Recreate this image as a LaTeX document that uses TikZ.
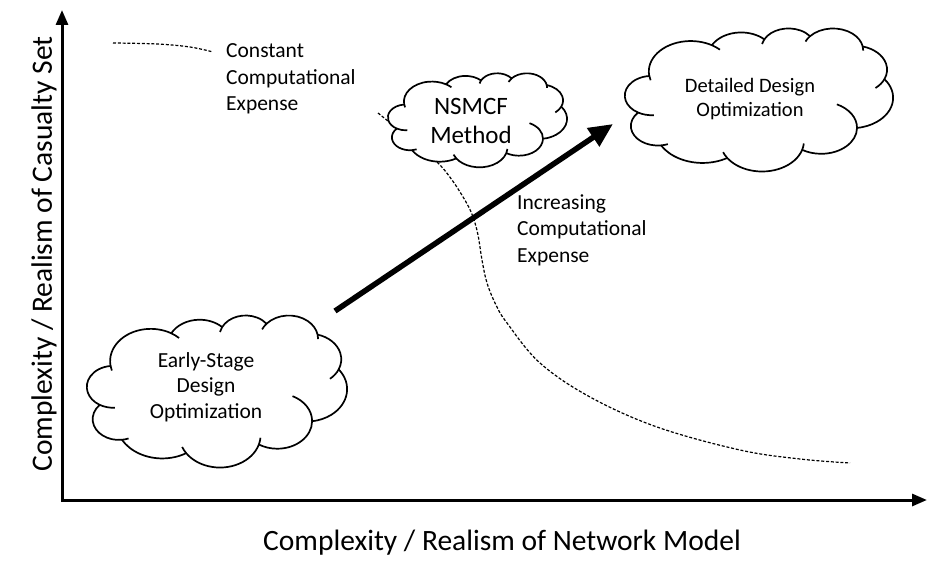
\documentclass[tikz,border=0pt]{standalone}
\usepackage{fontspec}
\setmainfont{Carlito}
\usetikzlibrary{arrows.meta}
\tikzset{
  cloudline/.style={line width=1.7pt, line join=round},
  axisline/.style={line width=3pt, line join=miter, {Triangle[length=15pt,width=12pt]}-{Triangle[length=15pt,width=12pt]}},
  trendarrow/.style={line width=5.5pt, -{Triangle[length=24pt,width=21pt]}},
  contour/.style={line width=1.2pt, dash pattern=on 3pt off 1.8pt},
  lbl/.style={inner sep=0pt, align=left, font=\fontsize{21.5}{26.5}\selectfont},
  cloudtext/.style={inner sep=0pt, align=center},
  axislabel/.style={inner sep=0pt, font=\fontsize{29.5}{34}\selectfont},
}
% PowerPoint-style cloud: #1,#2 = top-left corner (px), #3,#4 = width/100, height/100
\newcommand\pptcloud[4]{%
  \begin{scope}[shift={(#1,#2)}, x=#3pt, y=-#4pt]
    \filldraw[cloudline, fill=white] (9.03,33.26)
      arc[x radius=15.63, y radius=21.27, start angle=-187.75, end angle=-59.64]
      arc[x radius=12.35, y radius=16.82, start angle=-152.03, end angle=-45.45]
      arc[x radius=10.10, y radius=13.76, start angle=-153.49, end angle=-37.33]
      arc[x radius=11.24, y radius=15.27, start angle=-139.73, end angle=-10.21]
      arc[x radius=12.35, y radius=16.84, start angle=-74.77, end angle=23.21]
      arc[x radius=15.68, y radius=21.34, start angle=-37.52, end angle=81.86]
      arc[x radius=13.39, y radius=18.21, start angle=0.46, end angle=121.98]
      arc[x radius=15.63, y radius=21.33, start angle=16.84, end angle=146.23]
      arc[x radius=17.87, y radius=24.41, start angle=58.99, end angle=150.19]
      arc[x radius=10.09, y radius=13.70, start angle=-276.69, end angle=-136.88]
      arc[x radius=10.06, y radius=13.76, start angle=-239.64, end angle=-95.89]
      -- cycle;
    \draw[cloudline] (9.98,47.25) ++(85.54:10.06 and 13.76) arc[x radius=10.06, y radius=13.76, start angle=85.54, end angle=120.36];
    \draw[cloudline] (12.26,68.49) ++(68.24:10.09 and 13.70) arc[x radius=10.09, y radius=13.70, start angle=68.24, end angle=83.31];
    \draw[cloudline] (51.14,79.02) ++(146.23:15.63 and 21.33) arc[x radius=15.63, y radius=21.33, start angle=146.23, end angle=158.47];
    \draw[cloudline] (51.14,79.02) ++(4.73:15.63 and 21.33) arc[x radius=15.63, y radius=21.33, start angle=4.73, end angle=16.84];
    \draw[cloudline] (73.19,69.75) ++(-64.02:13.39 and 18.21) arc[x radius=13.39, y radius=18.21, start angle=-64.02, end angle=0.46];
    \draw[cloudline] (85.46,29.14) ++(23.21:12.35 and 16.84) arc[x radius=12.35, y radius=16.84, start angle=23.21, end angle=49.66];
    \draw[cloudline] (77.64,15.60) ++(-10.21:11.24 and 15.27) arc[x radius=11.24, y radius=15.27, start angle=-10.21, end angle=0.82];
    \draw[cloudline] (77.64,15.60) ++(-156.3:11.24 and 15.27) arc[x radius=11.24, y radius=15.27, start angle=-156.3, end angle=-139.73];
    \draw[cloudline] (61.02,14.08) ++(-167.72:10.10 and 13.76) arc[x radius=10.10, y radius=13.76, start angle=-167.72, end angle=-153.49];
    \draw[cloudline] (24.52,30.39) ++(-59.64:15.63 and 21.27) arc[x radius=15.63, y radius=21.27, start angle=-59.64, end angle=-45.74];
    \draw[cloudline] (24.52,30.39) ++(163.19:15.63 and 21.27) arc[x radius=15.63, y radius=21.27, start angle=163.19, end angle=172.25];
  \end{scope}}
\begin{document}
\begin{tikzpicture}[x=1pt, y=-1pt]
  \useasboundingbox[fill=white] (0,0) rectangle (929,561);
  % axes
  \coordinate (ytip) at (62,10);
  \coordinate (orig) at (62,500);
  \coordinate (xtip) at (927,500);
  \draw[axisline] (ytip) -- (orig) -- (xtip);
  % dashed contour
  \draw[contour] plot[smooth, tension=0.6] coordinates {(113,43) (157,44) (190,47) (213,52)};
  \draw[contour] plot[smooth, tension=0.6] coordinates {(378,113) (410,139) (437,162) (452,180) (466,202) (473,217) (478,235) (482,260) (487,283) (496,305) (507,323) (540,363) (590,397) (657,427) (740,450) (800,459) (850,463)};
  % clouds
  \pptcloud{87}{315}{2.60}{1.52}
  \pptcloud{388}{73}{1.79}{0.94}
  \pptcloud{625}{28}{2.68}{1.43}
  \node[cloudtext, font=\fontsize{21.5}{25.5}\selectfont] (early) at (206,387) {Early-Stage\\Design\\Optimization};
  \node[cloudtext, font=\fontsize{25}{28.5}\selectfont] (nsmcf) at (471,121) {NSMCF\\Method};
  \node[cloudtext, font=\fontsize{20.5}{23.5}\selectfont] (detail) at (750,99) {Detailed Design\\Optimization};
  % trend arrow
  \coordinate (as) at (335,311);
  \coordinate (ae) at (613,124);
  \draw[trendarrow] (as) -- (ae);
  % labels
  \node[lbl, anchor=west] (const) at (226,79) {Constant\\Computational\\Expense};
  \node[lbl, anchor=west] (incr) at (517,230) {Increasing\\Computational\\Expense};
  \node[axislabel] (xlab) at (502,543) {Complexity / Realism of Network Model};
  \node[axislabel, rotate=90] (ylab) at (44,254) {Complexity / Realism of Casualty Set};
\end{tikzpicture}
\end{document}
